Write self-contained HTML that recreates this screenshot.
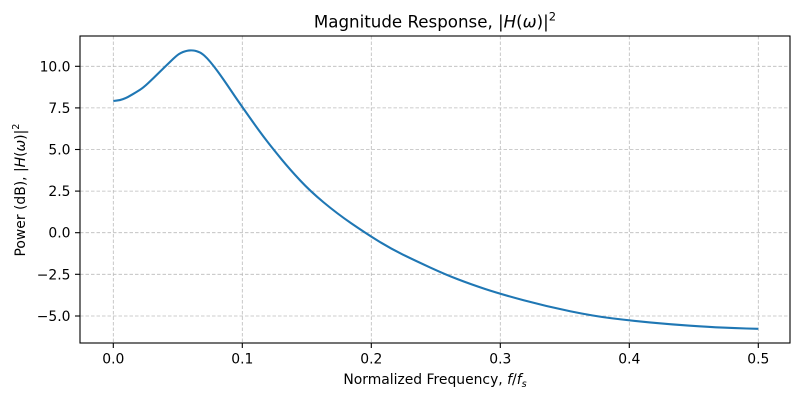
<!DOCTYPE html>
<html>
<head>
<meta charset="utf-8">
<style>
  html, body { margin: 0; padding: 0; background: #ffffff; }
  svg { display: block; }
  text { font-family: "DejaVu Sans", "Liberation Sans", sans-serif; fill: #000; }
</style>
</head>
<body>
<svg width="800" height="400" viewBox="0 0 800 400" xmlns="http://www.w3.org/2000/svg">
  <rect x="0" y="0" width="800" height="400" fill="#ffffff"/>

  <!-- grid -->
  <g stroke="#b0b0b0" stroke-width="0.8" stroke-dasharray="3.5,2" opacity="0.85">
    <line x1="113.3" y1="36" x2="113.3" y2="343"/>
    <line x1="242.3" y1="36" x2="242.3" y2="343"/>
    <line x1="371.3" y1="36" x2="371.3" y2="343"/>
    <line x1="500.3" y1="36" x2="500.3" y2="343"/>
    <line x1="629.3" y1="36" x2="629.3" y2="343"/>
    <line x1="758.3" y1="36" x2="758.3" y2="343"/>
    <line x1="80" y1="66.3" x2="790" y2="66.3"/>
    <line x1="80" y1="107.9" x2="790" y2="107.9"/>
    <line x1="80" y1="149.5" x2="790" y2="149.5"/>
    <line x1="80" y1="191.1" x2="790" y2="191.1"/>
    <line x1="80" y1="232.7" x2="790" y2="232.7"/>
    <line x1="80" y1="274.3" x2="790" y2="274.3"/>
    <line x1="80" y1="316" x2="790" y2="316"/>
  </g>

  <!-- curve (smoothed) -->
  <path fill="none" stroke="#1f77b4" stroke-width="2.1" stroke-linejoin="round" stroke-linecap="butt"
    d="M113.3,101 L116.65,100.6
       Q120,100.2 123,99.1
       Q126,98 128,96.9
       Q130,95.8 133,94.05
       Q136,92.3 139.65,90
       Q143.3,87.7 148.3,83
       Q153.3,78.3 159.15,72.5
       Q165,66.7 170.85,61.1
       Q176.7,55.5 178.85,54.15
       Q181,52.8 183,52
       Q185,51.2 186.75,50.85
       Q188.5,50.5 190,50.4
       Q191.5,50.3 193.25,50.5
       Q195,50.7 196.75,51.25
       Q198.5,51.8 200.1,52.55
       Q201.7,53.3 204.35,55.65
       Q207,58 210.15,61.75
       Q213.3,65.5 216.65,70
       Q220,74.5 224.15,80.5
       Q228.3,86.5 231.65,91.5
       Q235,96.5 238.65,101.75
       Q242.3,107 248.65,116
       Q255,125 259,130.5
       Q263,136 268.15,142.65
       Q273.3,149.3 281.65,159.4
       Q290,169.5 300,180.25
       Q310,191 323.5,202.25
       Q337,213.5 351,223.1
       Q365,232.7 377.5,240.5
       Q390,248.3 402.5,254.4
       Q415,260.5 430,267.4
       Q445,274.3 457.5,279.15
       Q470,284 485.15,289
       Q500.3,294 523.65,300.25
       Q547,306.5 570.15,311.25
       Q593.3,316 611.5,318.25
       Q629.7,320.5 649.85,322.4
       Q670,324.3 690,325.65
       Q710,327 722.5,327.6
       Q735,328.2 746.65,328.5
       L758.3,328.8"/>

  <!-- axes frame -->
  <rect x="80" y="36" width="710" height="307" fill="none" stroke="#000" stroke-width="1.1"/>

  <!-- ticks -->
  <g stroke="#000" stroke-width="1.1">
    <line x1="113.3" y1="343" x2="113.3" y2="348"/>
    <line x1="242.3" y1="343" x2="242.3" y2="348"/>
    <line x1="371.3" y1="343" x2="371.3" y2="348"/>
    <line x1="500.3" y1="343" x2="500.3" y2="348"/>
    <line x1="629.3" y1="343" x2="629.3" y2="348"/>
    <line x1="758.3" y1="343" x2="758.3" y2="348"/>
    <line x1="75" y1="66.3" x2="80" y2="66.3"/>
    <line x1="75" y1="107.9" x2="80" y2="107.9"/>
    <line x1="75" y1="149.5" x2="80" y2="149.5"/>
    <line x1="75" y1="191.1" x2="80" y2="191.1"/>
    <line x1="75" y1="232.7" x2="80" y2="232.7"/>
    <line x1="75" y1="274.3" x2="80" y2="274.3"/>
    <line x1="75" y1="316" x2="80" y2="316"/>
  </g>

  <!-- x tick labels -->
  <g font-size="13.9" text-anchor="middle">
    <text x="113.3" y="363.3">0.0</text>
    <text x="242.3" y="363.3">0.1</text>
    <text x="371.3" y="363.3">0.2</text>
    <text x="500.3" y="363.3">0.3</text>
    <text x="629.3" y="363.3">0.4</text>
    <text x="758.3" y="363.3">0.5</text>
  </g>

  <!-- y tick labels -->
  <g font-size="13.9" text-anchor="end">
    <text x="70.5" y="71.3">10.0</text>
    <text x="70.5" y="112.9">7.5</text>
    <text x="70.5" y="154.5">5.0</text>
    <text x="70.5" y="196.1">2.5</text>
    <text x="70.5" y="237.7">0.0</text>
    <text x="70.5" y="279.3">−2.5</text>
    <text x="70.5" y="321">−5.0</text>
  </g>

  <!-- title -->
  <text x="435" y="27.3" font-size="16.67" text-anchor="middle">Magnitude Response, |<tspan font-style="italic">H</tspan>(<tspan font-style="italic">ω</tspan>)|<tspan font-size="11.5" dy="-7">2</tspan></text>

  <!-- x label -->
  <text x="435" y="384" font-size="13.9" text-anchor="middle">Normalized Frequency, <tspan font-style="italic">f</tspan>/<tspan font-style="italic">f</tspan><tspan font-style="italic" font-size="9.7" dy="3">s</tspan></text>

  <!-- y label -->
  <text transform="translate(25,190) rotate(-90)" font-size="13.9" text-anchor="middle">Power (dB), |<tspan font-style="italic">H</tspan>(<tspan font-style="italic">ω</tspan>)|<tspan font-size="9.7" dy="-6">2</tspan></text>
</svg>
</body>
</html>
